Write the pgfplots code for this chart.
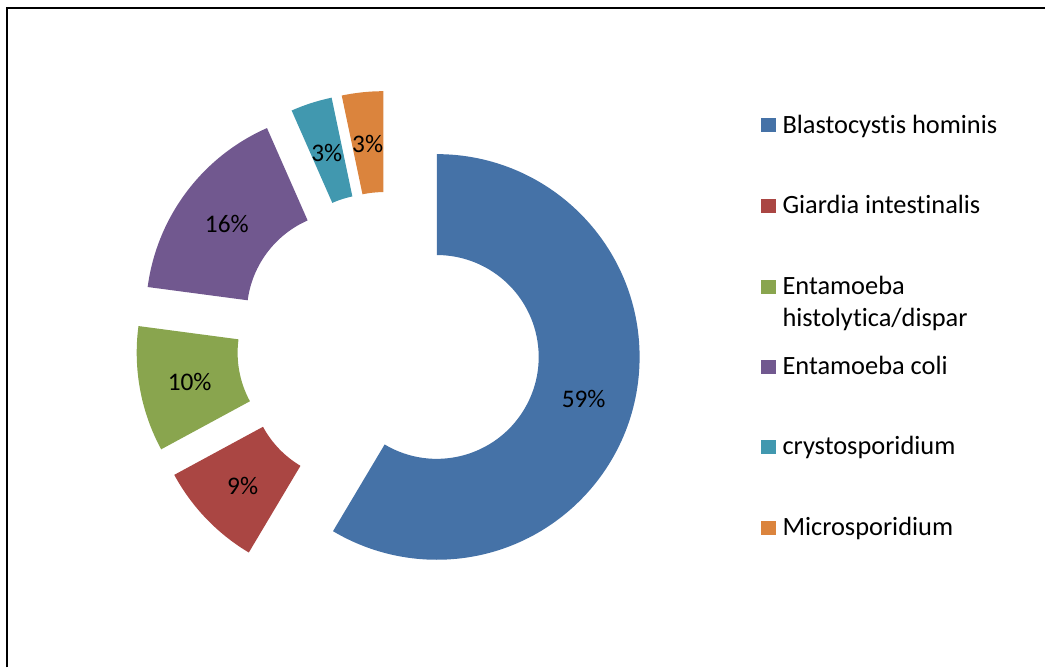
\documentclass[border=0pt]{standalone}
\usepackage{pgfplots}
\pgfplotsset{compat=1.18}
\usepackage{pgfplotstable}
\usepackage{fontspec}
\setmainfont{Carlito}[Ligatures={NoCommon}]
\definecolor{cBlue}{HTML}{4572A7}
\definecolor{cRed}{HTML}{AA4643}
\definecolor{cGreen}{HTML}{89A54E}
\definecolor{cPurple}{HTML}{71588F}
\definecolor{cTeal}{HTML}{4198AF}
\definecolor{cOrange}{HTML}{DB843D}
\pgfplotstableread[col sep=comma]{
name,value,color
Blastocystis hominis,58.55,cBlue
Giardia intestinalis,8.55,cRed
Entamoeba histolytica/dispar,10.0,cGreen
Entamoeba coli,16.3,cPurple
crystosporidium,3.3,cTeal
Microsporidium,3.3,cOrange
}\datatable
\begin{document}
\begin{tikzpicture}
\begin{axis}[
  width=784.5pt, height=501pt, scale only axis,
  xmin=0, xmax=1046, ymin=0, ymax=668, y dir=reverse,
  hide axis, clip=false]
\pgfplotsextra{
  \path (axis cs:0,0) rectangle (axis cs:1046,668);
  % frame (top and left sides visible)
  \draw[black, line width=1.5pt] (axis cs:7,668) -- (axis cs:7,8) -- (axis cs:1046,8);
  \gdef\cum{0}
  \pgfplotstablegetrowsof{\datatable}
  \pgfmathtruncatemacro{\N}{\pgfplotsretval-1}
  \foreach \i in {0,...,\N}{
    \pgfplotstablegetelem{\i}{value}\of\datatable \let\v\pgfplotsretval
    \pgfplotstablegetelem{\i}{color}\of\datatable \let\c\pgfplotsretval
    \pgfmathsetmacro\aone{90-3.6*\cum}
    \pgfmathsetmacro\atwo{\aone-3.6*\v}
    \pgfmathsetmacro\amid{(\aone+\atwo)/2}
    \pgfmathsetmacro\ox{389+50*cos(\amid)}
    \pgfmathsetmacro\oy{344-50*sin(\amid)}
    \pgfmathsetmacro\pax{\ox+203*cos(\aone)}
    \pgfmathsetmacro\pay{\oy-203*sin(\aone)}
    \pgfmathsetmacro\pbx{\ox+102*cos(\atwo)}
    \pgfmathsetmacro\pby{\oy-102*sin(\atwo)}
    \pgfmathsetmacro\plx{\ox+152.5*cos(\amid)}
    \pgfmathsetmacro\ply{\oy-152.5*sin(\amid)+2}
    \fill[\c] (axis cs:\pax,\pay) arc[start angle=\aone, end angle=\atwo, radius=152.25pt]
       -- (axis cs:\pbx,\pby) arc[start angle=\atwo, end angle=\aone, radius=76.5pt] -- cycle;
    \node[font=\fontsize{19}{23}\selectfont, inner sep=0pt] at (axis cs:\plx,\ply)
       {\pgfmathprintnumber[fixed,precision=0,assume math mode=true]{\v}\%};
    \pgfmathsetmacro\newcum{\cum+\v}
    \xdef\cum{\newcum}
  }
  % legend
  \foreach \i/\yc in {0/125.5,1/206,3/367,4/447.5,5/528}{
    \pgfplotstablegetelem{\i}{color}\of\datatable \let\c\pgfplotsretval
    \pgfplotstablegetelem{\i}{name}\of\datatable \let\n\pgfplotsretval
    \fill[\c] (axis cs:762,\yc-7) rectangle (axis cs:776.5,\yc+7);
    \pgfmathsetmacro\yb{\yc+7.8}
    \node[anchor=base west, inner sep=0pt, font=\fontsize{19.8}{24}\selectfont] at (axis cs:783,\yb) {\n};
  }
  \fill[cGreen] (axis cs:762,280) rectangle (axis cs:776.5,294);
  \node[anchor=base west, inner sep=0pt, font=\fontsize{19.8}{24}\selectfont] at (axis cs:783,294.3) {Entamoeba};
  \node[anchor=base west, inner sep=0pt, font=\fontsize{19.8}{24}\selectfont] at (axis cs:783,326.7) {histolytica/dispar};
}
\end{axis}
\end{tikzpicture}
\end{document}
